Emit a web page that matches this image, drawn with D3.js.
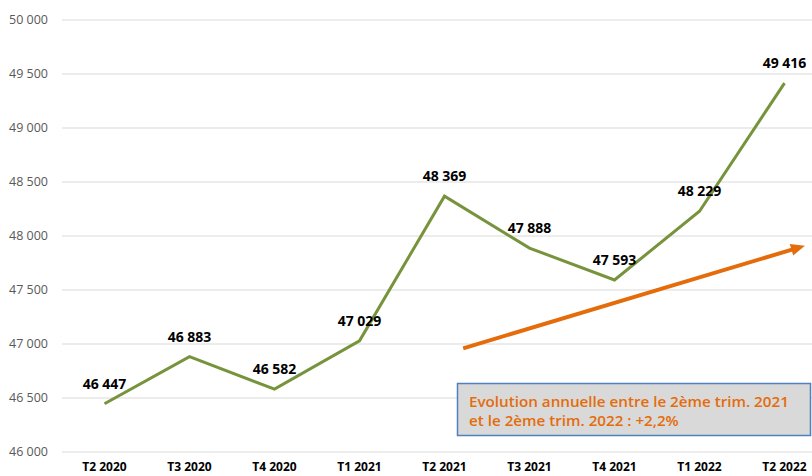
<!DOCTYPE html>
<html><head><meta charset="utf-8">
<script src="https://cdn.jsdelivr.net/npm/d3@7"></script>
<style>body{margin:0;background:#fff}svg{display:block}</style>
</head><body><svg id="c" width="812" height="476"></svg>
<script>
const categories = ["T2 2020","T3 2020","T4 2020","T1 2021","T2 2021","T3 2021","T4 2021","T1 2022","T2 2022"];
const values = [46447,46883,46582,47029,48369,47888,47593,48229,49416];
const yTicks = [46000,46500,47000,47500,48000,48500,49000,49500,50000];
const trendStart = [4.22, 46960];
const trendEnd = [8.24, 47910];
const noteLines = ["Evolution annuelle entre le 2ème trim. 2021","et le 2ème trim. 2022 : +2,2%"];

const svg = d3.select("#c");
const font = "'Open Sans', sans-serif";
const x = d3.scaleBand().domain(categories).range([62, 827]).padding(0);
const y = d3.scaleLinear().domain([46000, 50000]).range([452, 20]);
const cx = c => x(c) + x.bandwidth()/2;
const xi = d3.scaleLinear().domain([0, categories.length-1]).range([cx(categories[0]), cx(categories[categories.length-1])]);
const fmt = v => d3.format(",")(v).replace(/,/g, " ");

// grid
svg.append("g").selectAll("line").data(yTicks).join("line")
  .attr("x1", 62).attr("x2", 812).attr("y1", d=>y(d)).attr("y2", d=>y(d))
  .attr("stroke", "#d9d9d9").attr("stroke-width", 1);

// y labels
svg.append("g").selectAll("text").data(yTicks).join("text")
  .attr("x", 48).attr("y", d=>y(d)).attr("dy", "0.35em").attr("text-anchor","end")
  .attr("font-family", font).attr("font-size", 12.5).attr("fill", "#595959")
  .text(d=>fmt(d));

// x labels
svg.append("g").selectAll("text").data(categories).join("text")
  .attr("x", d=>cx(d)).attr("y", 471).attr("text-anchor","middle")
  .attr("font-family", font).attr("font-size", 12).attr("font-weight", "bold").attr("fill", "#000")
  .text(d=>d);

// line
svg.append("path").datum(values)
  .attr("d", d3.line().x((d,i)=>cx(categories[i])).y(d=>y(d)))
  .attr("fill","none").attr("stroke","#77933c").attr("stroke-width",3).attr("stroke-linejoin","miter");

// labels
svg.append("g").selectAll("text").data(values).join("text")
  .attr("x", (d,i)=>cx(categories[i])).attr("y", d=>y(d)-20).attr("dy","0.35em").attr("text-anchor","middle")
  .attr("font-family", font).attr("font-size", 14).attr("font-weight","bold").attr("fill","#000")
  .text(d=>fmt(d));

// arrow
const ax1 = xi(trendStart[0]), ay1 = y(trendStart[1]), ax2 = xi(trendEnd[0]), ay2 = y(trendEnd[1]);
const ang = Math.atan2(ay2-ay1, ax2-ax1);
svg.append("line").attr("x1",ax1).attr("y1",ay1)
  .attr("x2",ax2-10*Math.cos(ang)).attr("y2",ay2-10*Math.sin(ang))
  .attr("stroke","#e46c0a").attr("stroke-width",4);
svg.append("path")
  .attr("d", `M0,0L-14,-6L-14,6Z`)
  .attr("transform", `translate(${ax2},${ay2}) rotate(${ang*180/Math.PI})`)
  .attr("fill","#e46c0a");

// note box
const g = svg.append("g");
g.append("rect").attr("x",457.5).attr("y",383.5).attr("width",353).attr("height",52)
  .attr("fill","#d9d9d9").attr("stroke","#4f81bd").attr("stroke-width",1.5);
g.selectAll("text").data(noteLines).join("text")
  .attr("x",469).attr("y",(d,i)=>407+i*19)
  .attr("font-family",font).attr("font-size",15.2).attr("font-weight",600).attr("fill","#e46c0a")
  .text(d=>d);
</script></body></html>
